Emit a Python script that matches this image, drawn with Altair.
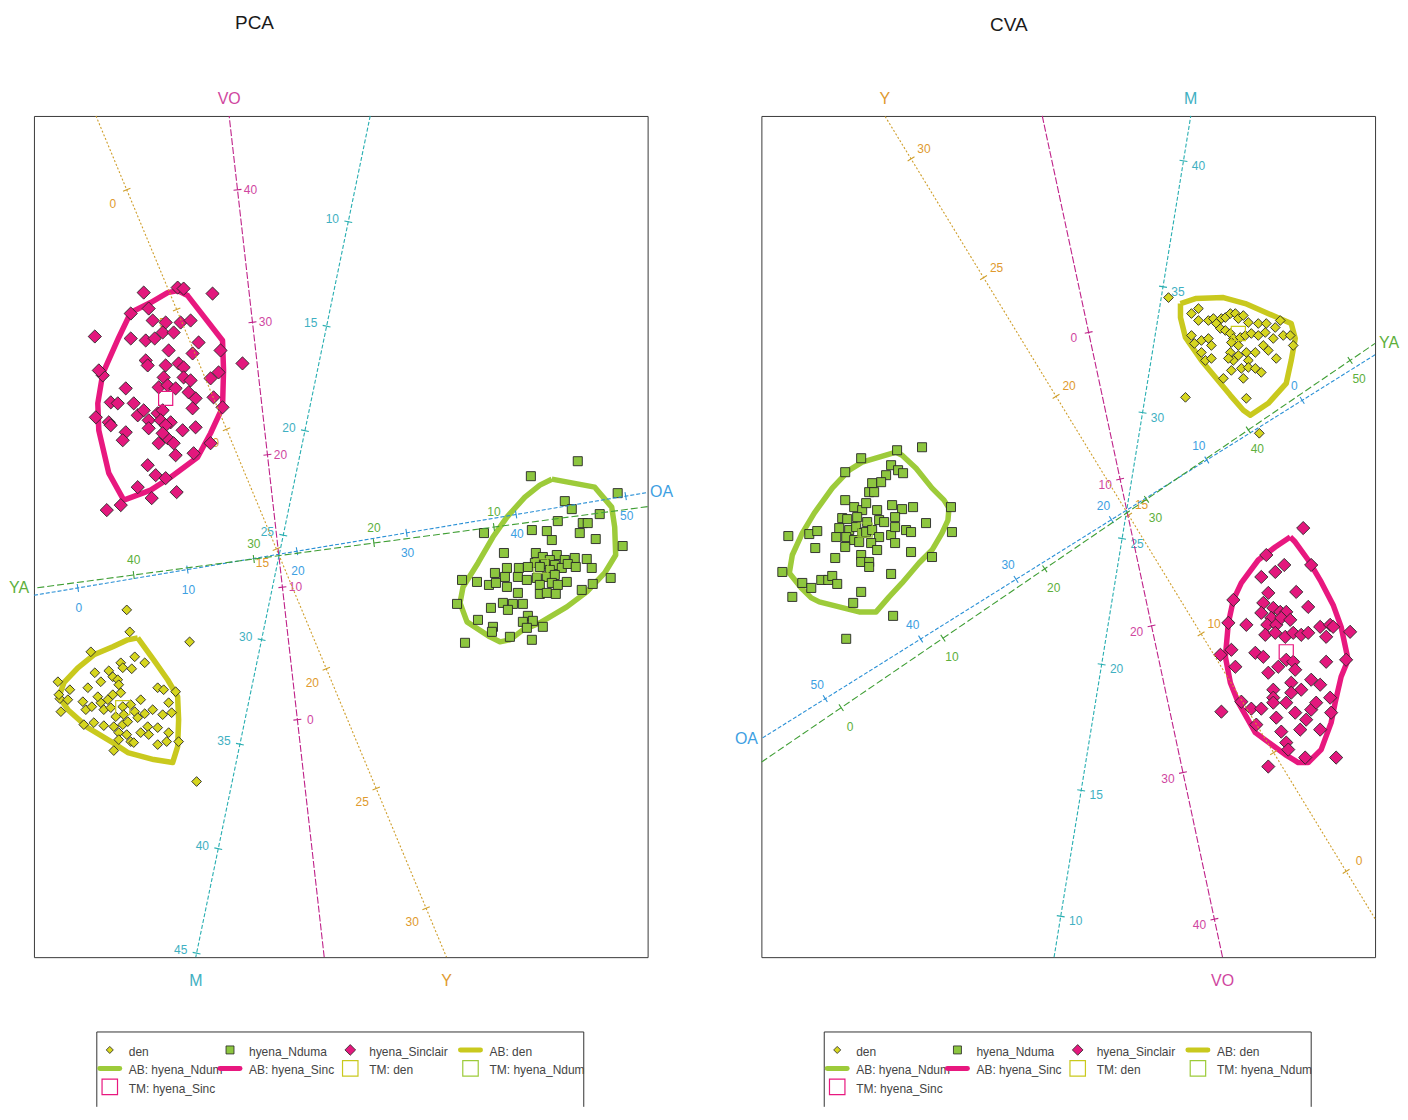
import math
import altair as alt
import pandas as pd

FONT = "Liberation Sans"

# ---------------------------------------------------------------- styles
GROUP_FILL = {"den": "#D6D61F", "hyena_Nduma": "#8DC63F", "hyena_Sinclair": "#E3187D"}
BAG_COLOR = {"den": "#C9C91E", "hyena_Nduma": "#9DCB3A", "hyena_Sinclair": "#E8187F"}
GROUP_SHAPE = {"den": "diamond", "hyena_Nduma": "square", "hyena_Sinclair": "diamond"}
GROUP_SIZE = {"den": 95, "hyena_Nduma": 82, "hyena_Sinclair": 175}
LEGEND_SIZE = {"den": 50, "hyena_Nduma": 64, "hyena_Sinclair": 115}

AXIS_STYLE = {
    "Y": dict(line="#CF9E2A", text="#E09A2E", dash=[2, 2]),
    "VO": dict(line="#BF2289", text="#D0479F", dash=[7, 2]),
    "M": dict(line="#28AEB1", text="#3FB0C2", dash=[4, 2]),
    "OA": dict(line="#2A90D6", text="#3DA0E2", dash=[4, 2]),
    "YA": dict(line="#3F9E34", text="#5DAF3C", dash=[7, 3]),
}

# ---------------------------------------------------------------- data: PCA
# biplot axes: name, tick values, calibration point A (value, x, y), point B, name side, label offset
PCA_AXES = [
    ("Y", [0, 5, 10, 15, 20, 25, 30], (0, 126, 189), (30, 426, 909), "bottom", (-14, 14)),
    ("VO", [0, 10, 20, 30, 40], (0, 297, 720), (40, 237, 189), "top", (13, 0)),
    ("M", [10, 15, 20, 25, 30, 35, 40, 45], (10, 348, 221), (45, 196, 954), "bottom", (-16, -3)),
    ("OA", [0, 10, 20, 30, 40, 50], (0, 77, 588), (50, 626, 496), "right", (1, 20)),
    ("YA", [10, 20, 30, 40], (40, 133, 575), (10, 494, 527), "left", (0, -15)),
]

PCA_SINCLAIR = [
    (143, 292), (177, 287), (183, 288), (212, 293), (94, 336), (130, 313), (148, 308), (152, 320),
    (165, 322), (180, 322), (190, 320), (130, 338), (145, 340), (154, 338), (162, 332), (173, 332),
    (198, 342), (220, 350), (242, 363), (145, 360), (147, 365), (168, 350), (192, 353), (165, 365),
    (178, 363), (183, 367), (210, 378), (218, 372), (102, 375), (125, 388), (163, 377), (158, 387),
    (167, 385), (175, 388), (183, 377), (190, 380), (195, 398), (188, 392), (213, 397), (222, 407),
    (110, 402), (117, 403), (133, 403), (137, 415), (143, 410), (148, 420), (157, 413), (162, 410),
    (160, 420), (170, 422), (165, 425), (182, 430), (195, 427), (192, 408), (95, 417), (108, 422),
    (110, 425), (125, 432), (122, 440), (158, 443), (167, 438), (173, 443), (162, 433), (148, 428),
    (210, 443), (175, 455), (193, 453), (147, 465), (155, 475), (137, 487), (165, 478), (176, 492),
    (120, 505), (106, 510), (98, 370), (151, 498),
]
PCA_NDUMA = [
    (578, 461), (531, 476), (618, 493), (565, 501), (572, 509), (600, 514), (558, 521), (583, 523),
    (588, 523), (532, 530), (547, 531), (484, 533), (580, 533), (596, 539), (552, 540), (623, 546),
    (504, 553), (536, 553), (557, 555), (543, 557), (550, 560), (565, 560), (575, 558), (587, 559),
    (535, 563), (545, 564), (555, 565), (562, 568), (568, 564), (576, 567), (507, 568), (519, 568),
    (528, 567), (540, 567), (550, 570), (592, 568), (495, 573), (505, 577), (518, 577), (527, 580),
    (537, 578), (547, 577), (555, 575), (567, 582), (477, 582), (489, 585), (496, 583), (507, 587),
    (540, 585), (552, 583), (558, 585), (462, 580), (518, 593), (540, 594), (547, 593), (556, 594),
    (582, 590), (593, 584), (611, 578), (503, 603), (513, 604), (523, 604), (491, 608), (508, 610),
    (457, 604), (528, 616), (523, 622), (533, 621), (478, 620), (493, 627), (543, 627), (465, 643),
    (510, 637), (492, 632), (532, 640), (527, 628),
]
PCA_DEN = [
    (126, 610), (129, 632), (189, 642), (90, 652), (134, 657), (144, 663), (120, 663), (122, 668),
    (131, 669), (94, 673), (108, 671), (112, 677), (117, 680), (100, 682), (87, 688), (69, 690),
    (57, 682), (59, 699), (60, 712), (82, 702), (85, 710), (91, 707), (100, 703), (107, 700),
    (112, 695), (120, 693), (118, 685), (97, 697), (103, 710), (110, 708), (122, 707), (130, 705),
    (140, 700), (115, 717), (123, 715), (134, 712), (144, 714), (152, 710), (157, 688), (163, 690),
    (168, 703), (162, 715), (171, 713), (175, 692), (93, 723), (103, 726), (113, 727), (122, 725),
    (127, 722), (137, 718), (147, 727), (140, 733), (157, 728), (168, 733), (118, 733), (126, 735),
    (130, 742), (133, 743), (118, 740), (113, 751), (148, 735), (157, 745), (166, 742), (178, 742),
    (83, 725), (196, 782), (67, 700), (58, 695),
]
PCA_BAGS = {
    "hyena_Sinclair": [
        (177, 290), (187, 295), (222, 340), (223, 370), (222, 407), (210, 433), (197, 457), (170, 477),
        (150, 490), (123, 500), (108, 473), (98, 430), (97, 403), (102, 373), (118, 337), (130, 312),
        (150, 302), (167, 292),
    ],
    "hyena_Nduma": [
        (552, 479), (595, 487), (612, 507), (615, 527), (616, 555), (605, 573), (587, 592), (567, 607),
        (540, 623), (523, 630), (510, 640), (500, 642), (490, 637), (467, 622), (460, 603), (463, 587),
        (478, 563), (493, 537), (507, 517), (525, 497), (540, 485),
    ],
    "den": [
        (137, 638), (153, 660), (167, 680), (177, 697), (178, 720), (177, 747), (172, 763), (153, 760),
        (127, 753), (112, 743), (87, 728), (67, 710), (58, 697), (63, 683), (77, 668), (93, 655),
        (112, 647), (127, 640),
    ],
}
PCA_MEANS = {"den": (122, 708), "hyena_Nduma": (541, 566), "hyena_Sinclair": (165, 398)}

# ---------------------------------------------------------------- data: CVA
CVA_AXES = [
    ("Y", [0, 5, 10, 15, 20, 25, 30], (30, 912, 158), (0, 1348, 872), "top", (13, -10)),
    ("VO", [0, 10, 20, 30, 40], (0, 1090, 332), (40, 1216, 920), "bottom", (-15, 6)),
    ("M", [10, 15, 20, 25, 30, 35, 40], (40, 1185, 160), (10, 1062, 917), "top", (15, 5)),
    ("OA", [0, 10, 20, 30, 40, 50], (0, 1304, 400), (50, 826, 699), "left", (-8, -14)),
    ("YA", [0, 10, 20, 30, 40, 50], (0, 842, 708), (50, 1352, 360), "right", (9, 19)),
]

CVA_DEN = [
    (1170, 297), (1193, 313), (1200, 308), (1200, 320), (1210, 320), (1215, 318), (1218, 323), (1223, 318),
    (1227, 317), (1232, 313), (1237, 313), (1240, 318), (1245, 315), (1250, 322), (1260, 323), (1268, 323),
    (1277, 327), (1282, 320), (1193, 335), (1196, 343), (1203, 340), (1210, 338), (1213, 345), (1222, 328),
    (1227, 330), (1232, 333), (1235, 338), (1242, 337), (1247, 335), (1253, 333), (1260, 335), (1267, 332),
    (1275, 338), (1285, 335), (1292, 335), (1295, 345), (1203, 352), (1207, 360), (1213, 358), (1232, 352),
    (1235, 360), (1240, 355), (1248, 352), (1250, 360), (1257, 352), (1265, 345), (1270, 350), (1278, 358),
    (1233, 370), (1243, 368), (1250, 367), (1257, 368), (1263, 372), (1225, 378), (1245, 378), (1187, 397),
    (1248, 398), (1230, 358), (1233, 342), (1240, 345), (1261, 433),
]
CVA_NDUMA = [
    (923, 447), (898, 450), (862, 458), (846, 472), (892, 465), (899, 470), (904, 473), (887, 475),
    (882, 482), (873, 483), (870, 492), (875, 492), (846, 500), (855, 507), (863, 510), (867, 503),
    (878, 510), (893, 505), (903, 509), (914, 507), (880, 520), (885, 522), (896, 517), (927, 523),
    (843, 518), (848, 519), (858, 517), (868, 522), (840, 528), (850, 530), (857, 527), (863, 533),
    (867, 532), (873, 530), (880, 537), (892, 535), (896, 527), (907, 530), (912, 532), (837, 537),
    (847, 537), (855, 540), (860, 542), (872, 543), (878, 550), (896, 543), (912, 552), (933, 557),
    (953, 532), (789, 536), (810, 534), (818, 531), (816, 548), (836, 558), (846, 547), (862, 555),
    (862, 562), (870, 562), (870, 567), (892, 574), (783, 572), (803, 583), (812, 588), (822, 580),
    (829, 580), (833, 576), (838, 584), (793, 597), (862, 592), (854, 603), (894, 616), (847, 639),
    (952, 507),
]
CVA_SINCLAIR = [
    (1305, 528), (1268, 555), (1277, 572), (1286, 565), (1263, 577), (1313, 565), (1298, 592), (1270, 593),
    (1265, 603), (1235, 600), (1263, 613), (1275, 608), (1282, 612), (1288, 612), (1273, 618), (1269, 625),
    (1278, 625), (1283, 618), (1292, 620), (1310, 607), (1248, 625), (1267, 635), (1277, 633), (1287, 637),
    (1295, 633), (1303, 635), (1310, 633), (1322, 627), (1332, 625), (1328, 637), (1335, 627), (1352, 632),
    (1257, 653), (1265, 657), (1280, 667), (1288, 660), (1295, 662), (1297, 670), (1328, 662), (1348, 660),
    (1222, 655), (1237, 667), (1270, 673), (1293, 683), (1303, 690), (1313, 680), (1322, 685), (1275, 690),
    (1275, 698), (1293, 693), (1332, 698), (1243, 702), (1253, 709), (1263, 709), (1275, 703), (1288, 703),
    (1297, 713), (1313, 710), (1318, 703), (1308, 720), (1333, 713), (1278, 718), (1258, 725), (1283, 732),
    (1302, 730), (1322, 730), (1223, 712), (1288, 743), (1307, 758), (1338, 758), (1270, 767), (1290, 750),
    (1230, 623), (1233, 650),
]
CVA_BAGS = {
    "den": [
        (1182, 303), (1197, 298), (1225, 297), (1247, 303), (1293, 323), (1297, 338), (1293, 360),
        (1288, 383), (1270, 403), (1252, 415), (1245, 410), (1232, 395), (1203, 360), (1187, 337),
        (1182, 317),
    ],
    "hyena_Nduma": [
        (897, 452), (903, 455), (917, 468), (933, 488), (945, 500), (950, 508), (949, 520), (943, 533),
        (933, 550), (920, 563), (903, 583), (890, 597), (877, 612), (860, 612), (820, 602), (812, 598),
        (802, 588), (790, 573), (793, 555), (803, 533), (815, 513), (833, 488), (850, 470), (863, 462),
        (880, 457),
    ],
    "hyena_Sinclair": [
        (1292, 537), (1297, 542), (1310, 560), (1323, 582), (1335, 605), (1343, 627), (1350, 660),
        (1343, 677), (1337, 703), (1333, 723), (1323, 750), (1310, 763), (1300, 763), (1287, 755),
        (1257, 733), (1240, 703), (1232, 683), (1227, 657), (1230, 623), (1235, 600), (1243, 583),
        (1260, 560), (1277, 547),
    ],
}
CVA_MEANS = {"den": (1240, 333), "hyena_Nduma": (866, 530), "hyena_Sinclair": (1288, 652)}

# ---------------------------------------------------------------- legend
LEGEND_LABELS = ["den", "hyena_Nduma", "hyena_Sinclair", "AB: den", "AB: hyena_Ndum",
                 "AB: hyena_Sinc", "TM: den", "TM: hyena_Ndum", "TM: hyena_Sinc"]
LEGEND_KIND = ["point", "point", "point", "bag", "bag", "bag", "mean", "mean", "mean"]
LEGEND_GROUP = ["den", "hyena_Nduma", "hyena_Sinclair"] * 3

PANELS = [
    dict(title="PCA", box=(33, 648, 115, 958), title_xy=(254, 22), legend=(96, 1033),
         axes=PCA_AXES, points={"den": PCA_DEN, "hyena_Nduma": PCA_NDUMA, "hyena_Sinclair": PCA_SINCLAIR},
         bags=PCA_BAGS, means=PCA_MEANS),
    dict(title="CVA", box=(762, 1377, 115, 958), title_xy=(1010, 24), legend=(825, 1033),
         axes=CVA_AXES, points={"den": CVA_DEN, "hyena_Nduma": CVA_NDUMA, "hyena_Sinclair": CVA_SINCLAIR},
         bags=CVA_BAGS, means=CVA_MEANS),
]


def axis_geometry(values, a, b, box, side, off):
    x0, x1, y0, y1 = box
    va, xa, ya = a
    vb, xb, yb = b
    ux = (xb - xa) / (vb - va)
    uy = (yb - ya) / (vb - va)
    ts = []
    if ux:
        for xe in (x0, x1):
            t = (xe - xa) / ux
            yy = ya + t * uy
            if y0 - 0.01 <= yy <= y1 + 0.01:
                ts.append(t)
    if uy:
        for ye in (y0, y1):
            t = (ye - ya) / uy
            xx = xa + t * ux
            if x0 - 0.01 <= xx <= x1 + 0.01:
                ts.append(t)
    p1 = (xa + min(ts) * ux, ya + min(ts) * uy)
    p2 = (xa + max(ts) * ux, ya + max(ts) * uy)
    n = math.hypot(ux, uy)
    nx, ny = -uy / n, ux / n
    ticks, labels = [], []
    for v in values:
        tx, ty = xa + (v - va) * ux, ya + (v - va) * uy
        ticks.append(dict(x=tx - 4 * nx, y=ty - 4 * ny, x2=tx + 4 * nx, y2=ty + 4 * ny))
        labels.append(dict(x=tx + off[0], y=ty + off[1], t=str(v)))
    if side == "top":
        e = min((p1, p2), key=lambda p: p[1]); npos = (e[0], y0 - 17)
    elif side == "bottom":
        e = max((p1, p2), key=lambda p: p[1]); npos = (e[0], y1 + 24)
    elif side == "left":
        e = min((p1, p2), key=lambda p: p[0]); npos = (x0 - 15, e[1])
    else:
        e = max((p1, p2), key=lambda p: p[0]); npos = (x1 + 14, e[1])
    line = pd.DataFrame([dict(x=p1[0], y=p1[1], x2=p2[0], y2=p2[1])])
    return line, pd.DataFrame(ticks), pd.DataFrame(labels), pd.DataFrame([dict(x=npos[0], y=npos[1])])


def panel(spec):
    x0, x1, y0, y1 = spec["box"]
    xs = alt.Scale(domain=[x0, x1], nice=False, zero=False)
    ys = alt.Scale(domain=[y0, y1], nice=False, zero=False, reverse=True)
    X = alt.X("x:Q", scale=xs, axis=None)
    Y = alt.Y("y:Q", scale=ys, axis=None)

    label_layers, line_layers, name_layers = [], [], []
    for name, vals, a, b, side, off in spec["axes"]:
        st = AXIS_STYLE[name]
        line, ticks, labels, npos = axis_geometry(vals, a, b, spec["box"], side, off)
        label_layers.append(alt.Chart(labels).mark_text(font=FONT, fontSize=12, color=st["text"])
                            .encode(x=X, y=Y, text="t:N"))
        line_layers.append(alt.Chart(line).mark_rule(color=st["line"], strokeWidth=1.1, strokeDash=st["dash"])
                           .encode(x=X, y=Y, x2="x2:Q", y2="y2:Q"))
        line_layers.append(alt.Chart(ticks).mark_rule(color=st["line"], strokeWidth=1.1)
                           .encode(x=X, y=Y, x2="x2:Q", y2="y2:Q"))
        name_layers.append(alt.Chart(pd.DataFrame([dict(x=npos.x[0], y=npos.y[0], t=name)]))
                           .mark_text(font=FONT, fontSize=16, color=st["text"])
                           .encode(x=X, y=Y, text="t:N"))

    bag_layers, pt_layers, mean_layers = [], [], []
    for g in ["den", "hyena_Nduma", "hyena_Sinclair"]:
        verts = spec["bags"][g] + [spec["bags"][g][0]]
        bdf = pd.DataFrame({"x": [v[0] for v in verts], "y": [v[1] for v in verts],
                            "i": list(range(len(verts)))})
        bag_layers.append(alt.Chart(bdf).mark_line(color=BAG_COLOR[g], strokeWidth=5.5, strokeJoin="round")
                          .encode(x=X, y=Y, order="i:Q"))
        pdf = pd.DataFrame({"x": [p[0] for p in spec["points"][g]], "y": [p[1] for p in spec["points"][g]]})
        pt_layers.append(alt.Chart(pdf).mark_point(shape=GROUP_SHAPE[g], filled=True, fill=GROUP_FILL[g],
                                                   stroke="#262626", strokeWidth=0.9, opacity=1,
                                                   size=GROUP_SIZE[g])
                         .encode(x=X, y=Y))
        m = spec["means"][g]
        mean_layers.append(alt.Chart(pd.DataFrame([dict(x=m[0], y=m[1])]))
                           .mark_point(shape="square", filled=False, stroke=BAG_COLOR[g], strokeWidth=1.2,
                                       opacity=1, size=200)
                           .encode(x=X, y=Y))

    tx, ty = spec["title_xy"]
    title = alt.Chart(pd.DataFrame([dict(x=tx, y=ty, t=spec["title"])])).mark_text(
        font=FONT, fontSize=19, color="#1a1a1a").encode(x=X, y=Y, text="t:N")

    # legend
    lx, ly = spec["legend"]
    frame = pd.DataFrame([
        dict(x=lx, y=ly, x2=lx + 488, y2=ly),
        dict(x=lx, y=ly, x2=lx, y2=1108),
        dict(x=lx + 488, y=ly, x2=lx + 488, y2=1108),
    ])
    leg_layers = [alt.Chart(frame).mark_rule(color="#333333", strokeWidth=1)
                  .encode(x=X, y=Y, x2="x2:Q", y2="y2:Q")]
    rows = []
    for i, (lab, kind, g) in enumerate(zip(LEGEND_LABELS, LEGEND_KIND, LEGEND_GROUP)):
        col, row = i % 4, i // 4
        sx = lx + 13 + col * 120.5
        sy = ly + 18 + row * 18.5
        rows.append(dict(x=sx, y=sy, tx=sx + 19, ty=sy + 2, t=lab, kind=kind, g=g))
    ldf = pd.DataFrame(rows)
    leg_layers.append(alt.Chart(ldf).mark_text(font=FONT, fontSize=12, color="#444444", align="left")
                      .encode(x=alt.X("tx:Q", scale=xs, axis=None), y=alt.Y("ty:Q", scale=ys, axis=None),
                              text="t:N"))
    for g in ["den", "hyena_Nduma", "hyena_Sinclair"]:
        sub = ldf[(ldf.g == g)]
        p = sub[sub.kind == "point"]
        leg_layers.append(alt.Chart(p).mark_point(shape=GROUP_SHAPE[g], filled=True, fill=GROUP_FILL[g],
                                                  stroke="#262626", strokeWidth=0.8, opacity=1,
                                                  size=LEGEND_SIZE[g]).encode(x=X, y=Y))
        bg = sub[sub.kind == "bag"].copy()
        bg["xa"] = bg.x - 10
        bg["xb"] = bg.x + 10
        leg_layers.append(alt.Chart(bg).mark_rule(color=BAG_COLOR[g], strokeWidth=5, strokeCap="round")
                          .encode(x=alt.X("xa:Q", scale=xs, axis=None), x2="xb:Q", y=Y))
        mn = sub[sub.kind == "mean"]
        leg_layers.append(alt.Chart(mn).mark_point(shape="square", filled=False, stroke=BAG_COLOR[g],
                                                   strokeWidth=1.2, opacity=1, size=240).encode(x=X, y=Y))

    layers = (label_layers + bag_layers + pt_layers + mean_layers + line_layers + name_layers
              + [title] + leg_layers)
    return alt.layer(*layers).properties(width=x1 - x0, height=y1 - y0)


chart = alt.hconcat(panel(PANELS[0]), panel(PANELS[1]), spacing=114, bounds="flush").properties(
    padding={"left": 0, "top": 4, "right": 0, "bottom": 0}, background="white"
).configure_view(stroke="#3a3a3a", strokeWidth=1)

chart.save("out.html", embed_options={"renderer": "svg", "actions": False})
